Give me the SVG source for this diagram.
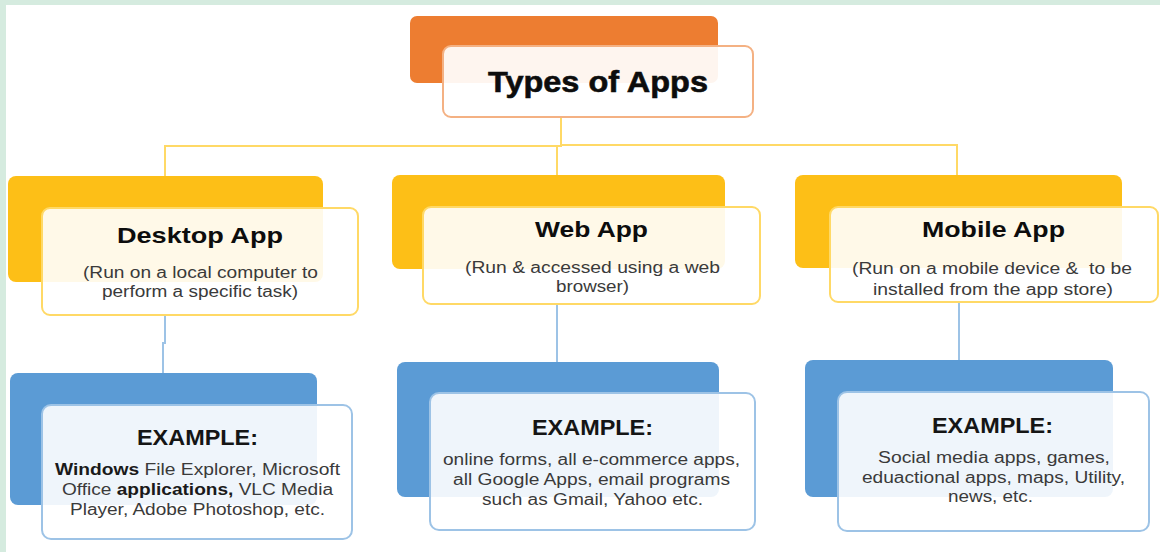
<svg xmlns="http://www.w3.org/2000/svg" width="1160" height="552" viewBox="0 0 1160 552">
<style>
text{font-family:"Liberation Sans",Arial,sans-serif}
.h{font-weight:bold;fill:#0d0d0d}
.s{font-size:16px;fill:#3a3a3a}
.b{font-weight:bold;fill:#1a1a1a}
.ex{font-size:22px;font-weight:bold;fill:#151515}
.or{fill:#ED7D31}
.ye{fill:#FDBF17}
.bl{fill:#5B9BD5}
.wo{fill:#fff;fill-opacity:0.92;stroke:#F4B183;stroke-width:2}
.wy{fill:#fff;fill-opacity:0.9;stroke:#FFD966;stroke-width:2}
.wb{fill:#fff;fill-opacity:0.9;stroke:#9DC3E6;stroke-width:2}
.cy{fill:none;stroke:#FFD966;stroke-width:2}
.cb{fill:none;stroke:#9DC3E6;stroke-width:2}
</style>
<rect x="0" y="0" width="1160" height="552" fill="#D5EBDF"/>
<rect x="6" y="5" width="1154" height="547" fill="#fff"/>
<g id="connectors">
<path class="cy" d="M165,177 V146 H561 V117"/>
<path class="cy" d="M557,146 V176"/>
<path class="cy" d="M561,145 H957 V176"/>
<path class="cb" d="M165,316 V343 H163 V373"/>
<path class="cb" d="M557,304 V362"/>
<path class="cb" d="M959,302 V360"/>
</g>
<g id="title">
<rect class="or" x="410" y="16" width="308" height="67" rx="7"/>
<rect class="wo" x="443" y="46" width="310" height="71" rx="8"/>
<text class="h" x="488" y="92" font-size="30" textLength="220" lengthAdjust="spacingAndGlyphs" stroke="#0d0d0d" stroke-width="0.6">Types of Apps</text>
</g>
<g id="desktop">
<rect class="ye" x="8" y="176" width="315" height="106" rx="8"/>
<rect class="wy" x="42" y="208" width="316" height="107" rx="8"/>
<text class="h" x="117" y="243" font-size="22" textLength="166" lengthAdjust="spacingAndGlyphs">Desktop App</text>
<text class="s" x="83" y="278" textLength="235" lengthAdjust="spacingAndGlyphs">(Run on a local computer to</text>
<text class="s" x="102" y="297" textLength="196" lengthAdjust="spacingAndGlyphs">perform a specific task)</text>
</g>
<g id="web">
<rect class="ye" x="392" y="175" width="333" height="94" rx="8"/>
<rect class="wy" x="423" y="207" width="337" height="97" rx="8"/>
<text class="h" x="535" y="237" font-size="22" textLength="113" lengthAdjust="spacingAndGlyphs">Web App</text>
<text class="s" x="465" y="273" textLength="255" lengthAdjust="spacingAndGlyphs">(Run &amp; accessed using a web</text>
<text class="s" x="556" y="292" textLength="73" lengthAdjust="spacingAndGlyphs">browser)</text>
</g>
<g id="mobile">
<rect class="ye" x="795" y="175" width="327" height="93" rx="8"/>
<rect class="wy" x="830" y="207" width="328" height="95" rx="8"/>
<text class="h" x="922" y="237" font-size="22" textLength="143" lengthAdjust="spacingAndGlyphs">Mobile App</text>
<text class="s" x="852" y="274" textLength="280" lengthAdjust="spacingAndGlyphs" style="white-space:pre">(Run on a mobile device &amp;  to be</text>
<text class="s" x="873" y="295" textLength="240" lengthAdjust="spacingAndGlyphs">installed from the app store)</text>
</g>
<g id="desktop-example">
<rect class="bl" x="10" y="373" width="307" height="132" rx="8"/>
<rect class="wb" x="42" y="405" width="310" height="134" rx="9"/>
<text class="ex" x="137" y="445" textLength="121" lengthAdjust="spacingAndGlyphs">EXAMPLE:</text>
<text class="s" x="55" y="475" textLength="285" lengthAdjust="spacingAndGlyphs"><tspan class="b">Windows</tspan> File Explorer, Microsoft</text>
<text class="s" x="62" y="495" textLength="271" lengthAdjust="spacingAndGlyphs">Office <tspan class="b">applications,</tspan> VLC Media</text>
<text class="s" x="70" y="515" textLength="255" lengthAdjust="spacingAndGlyphs">Player, Adobe Photoshop, etc.</text>
</g>
<g id="web-example">
<rect class="bl" x="397" y="362" width="322" height="135" rx="8"/>
<rect class="wb" x="430" y="393" width="325" height="137" rx="9"/>
<text class="ex" x="532" y="435" textLength="121" lengthAdjust="spacingAndGlyphs">EXAMPLE:</text>
<text class="s" x="443" y="465" textLength="297" lengthAdjust="spacingAndGlyphs">online forms, all e-commerce apps,</text>
<text class="s" x="453" y="485" textLength="277" lengthAdjust="spacingAndGlyphs">all Google Apps, email programs</text>
<text class="s" x="482" y="505" textLength="221" lengthAdjust="spacingAndGlyphs">such as Gmail, Yahoo etc.</text>
</g>
<g id="mobile-example">
<rect class="bl" x="805" y="360" width="308" height="137" rx="8"/>
<rect class="wb" x="838" y="392" width="311" height="139" rx="9"/>
<text class="ex" x="932" y="433" textLength="121" lengthAdjust="spacingAndGlyphs">EXAMPLE:</text>
<text class="s" x="878" y="463" textLength="232" lengthAdjust="spacingAndGlyphs">Social media apps, games,</text>
<text class="s" x="862" y="483" textLength="263" lengthAdjust="spacingAndGlyphs">eduactional apps, maps, Utility,</text>
<text class="s" x="948" y="502" textLength="85" lengthAdjust="spacingAndGlyphs">news, etc.</text>
</g>
</svg>
